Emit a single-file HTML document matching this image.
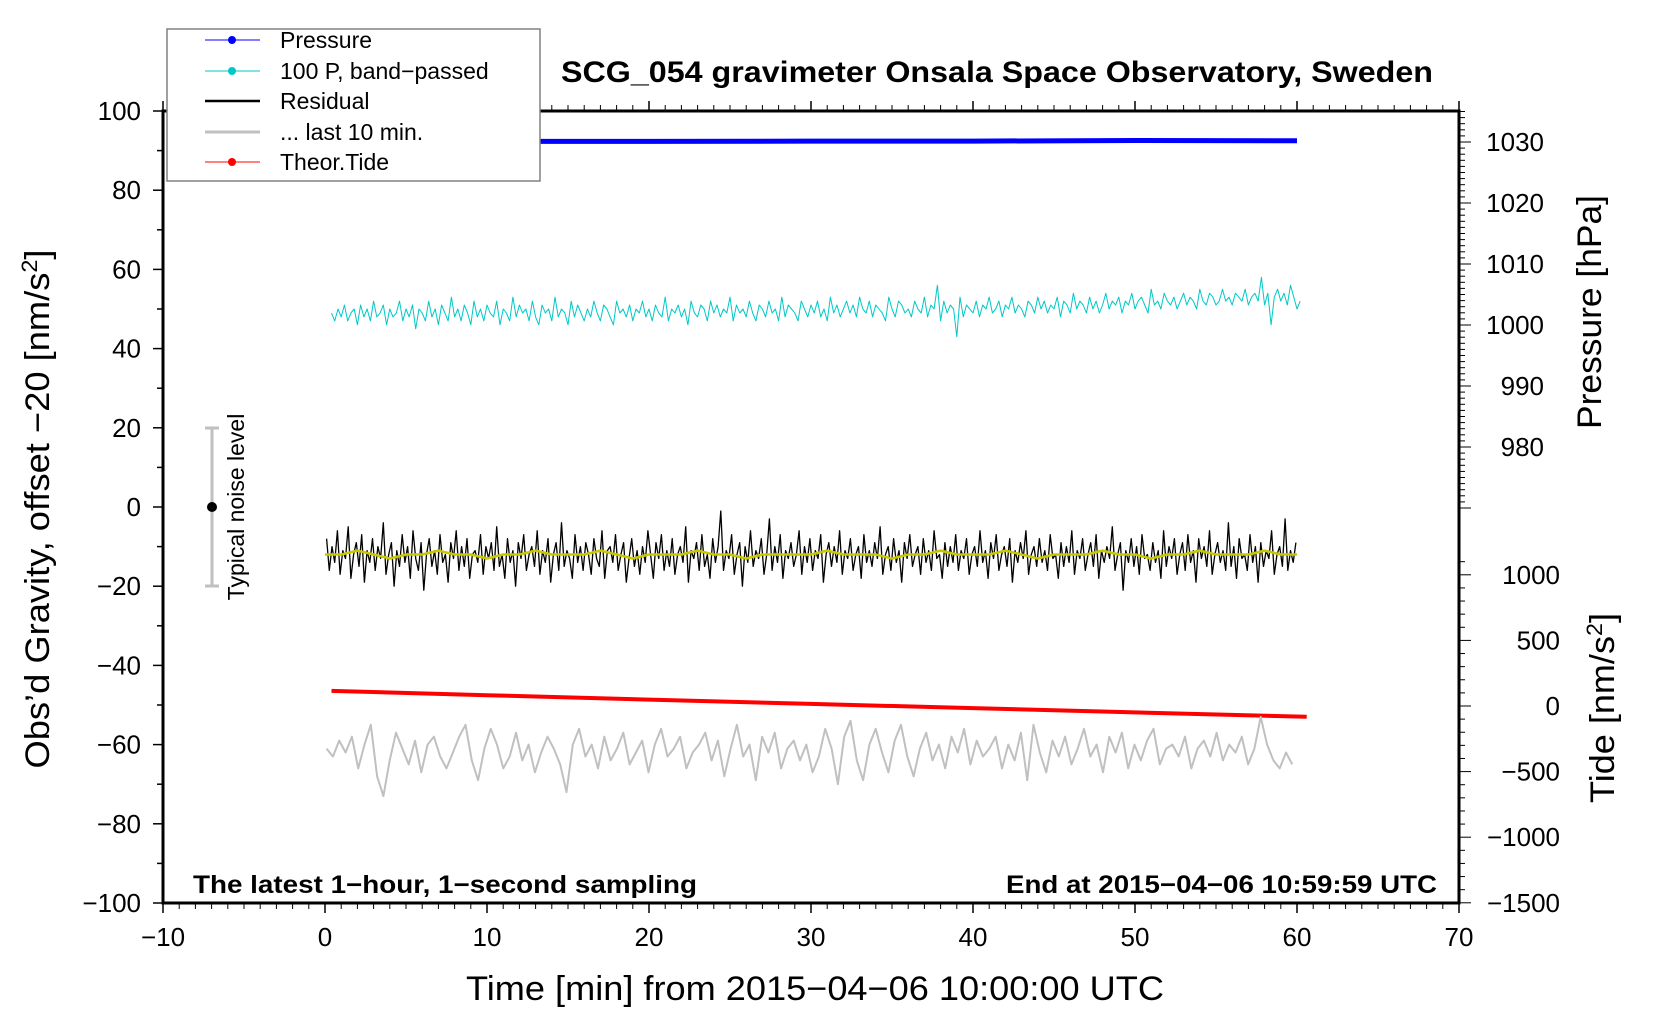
<!DOCTYPE html>
<html><head><meta charset="utf-8"><style>
html,body{margin:0;padding:0;background:#fff;}
svg{display:block;font-family:"Liberation Sans",sans-serif;}
</style></head><body>
<svg id="chart" width="1660" height="1020" viewBox="0 0 1660 1020" xmlns="http://www.w3.org/2000/svg">
<g id="marks"></g>
<g id="axes"></g>
<text x="997" y="82" font-size="30" font-weight="bold" text-anchor="middle" textLength="872" lengthAdjust="spacingAndGlyphs">SCG_054 gravimeter Onsala Space Observatory, Sweden</text>
<text x="193" y="893" font-size="25" font-weight="bold" textLength="504" lengthAdjust="spacingAndGlyphs">The latest 1−hour, 1−second sampling</text>
<text x="1437" y="893" font-size="25" font-weight="bold" text-anchor="end" textLength="431" lengthAdjust="spacingAndGlyphs">End at 2015−04−06 10:59:59 UTC</text>
<text x="815" y="1000" font-size="34" text-anchor="middle" textLength="698" lengthAdjust="spacingAndGlyphs">Time [min] from 2015−04−06 10:00:00 UTC</text>
<text transform="translate(49,509) rotate(-90)" font-size="34" text-anchor="middle" textLength="519" lengthAdjust="spacingAndGlyphs">Obs’d Gravity, offset −20 [nm/s<tspan dy="-12" font-size="22">2</tspan><tspan dy="12">]</tspan></text>
<text transform="translate(1601,312) rotate(-90)" font-size="34" text-anchor="middle" textLength="234" lengthAdjust="spacingAndGlyphs">Pressure [hPa]</text>
<text transform="translate(1614,708) rotate(-90)" font-size="34" text-anchor="middle" textLength="190" lengthAdjust="spacingAndGlyphs">Tide [nm/s<tspan dy="-12" font-size="22">2</tspan><tspan dy="12">]</tspan></text>
<g>
<line x1="212" y1="428" x2="212" y2="586" stroke="#c0c0c0" stroke-width="3"/>
<line x1="205" y1="428" x2="219" y2="428" stroke="#c0c0c0" stroke-width="3"/>
<line x1="205" y1="586" x2="219" y2="586" stroke="#c0c0c0" stroke-width="3"/>
<circle cx="212" cy="507" r="5" fill="#000"/>
<text transform="translate(244,507) rotate(-90)" font-size="23" text-anchor="middle">Typical noise level</text>
</g>
<g>
<rect x="167" y="29" width="373" height="152" fill="#fff" stroke="#808080" stroke-width="1.5"/>
<line x1="205" y1="40" x2="260" y2="40" stroke="#0000ff" stroke-width="1"/><circle cx="232" cy="40" r="4" fill="#0000ff"/>
<text x="280" y="48" font-size="23">Pressure</text>
<line x1="205" y1="71" x2="260" y2="71" stroke="#00c8c8" stroke-width="1"/><circle cx="232" cy="71" r="4" fill="#00c8c8"/>
<text x="280" y="79" font-size="23">100 P, band−passed</text>
<line x1="205" y1="101" x2="260" y2="101" stroke="#000" stroke-width="2.5"/>
<text x="280" y="109" font-size="23">Residual</text>
<line x1="205" y1="132" x2="260" y2="132" stroke="#c0c0c0" stroke-width="3"/>
<text x="280" y="140" font-size="23">... last 10 min.</text>
<line x1="205" y1="162" x2="260" y2="162" stroke="#ff0000" stroke-width="1"/><circle cx="232" cy="162" r="4" fill="#ff0000"/>
<text x="280" y="170" font-size="23">Theor.Tide</text>
</g>
</svg>
<script>
const resid=[-8,-16,-10,-14,-6,-17,-11,-13,-5,-18,-12,-9,-15,-7,-19,-11,-14,-8,-16,-10,
-13,-4,-17,-12,-9,-20,-11,-15,-7,-14,-10,-18,-6,-13,-16,-9,-21,-12,-8,-15,
-11,-17,-7,-14,-12,-19,-9,-13,-6,-16,-10,-15,-8,-18,-12,-11,-14,-7,-17,-10,
-13,-9,-16,-5,-15,-12,-18,-8,-14,-11,-20,-9,-13,-7,-16,-12,-10,-15,-6,-17,
-11,-14,-8,-19,-12,-9,-16,-4,-15,-11,-13,-18,-7,-14,-10,-16,-9,-12,-17,-8,
-13,-15,-6,-18,-11,-10,-14,-7,-16,-12,-9,-19,-13,-8,-15,-11,-17,-10,-14,-6,
-12,-18,-9,-13,-7,-16,-11,-15,-8,-17,-12,-10,-14,-5,-19,-11,-13,-9,-16,-7,
-15,-12,-18,-8,-14,-10,-1,-16,-11,-13,-7,-17,-12,-9,-20,-10,-14,-6,-15,-11,
-13,-8,-17,-12,-3,-16,-10,-14,-7,-18,-11,-13,-9,-15,-12,-6,-17,-10,-14,-8,
-16,-11,-13,-7,-19,-12,-9,-15,-10,-14,-6,-17,-11,-13,-8,-16,-12,-10,-18,-7,
-14,-11,-15,-9,-13,-5,-17,-12,-10,-16,-8,-14,-11,-19,-9,-13,-7,-15,-12,-10,
-17,-8,-14,-11,-16,-6,-13,-12,-18,-9,-15,-10,-14,-7,-16,-11,-13,-8,-17,-12,
-10,-15,-6,-14,-11,-18,-9,-13,-7,-16,-12,-10,-15,-8,-19,-11,-14,-9,-13,-6,
-17,-12,-10,-15,-8,-14,-11,-16,-7,-13,-12,-18,-9,-15,-10,-14,-6,-17,-11,-13,
-8,-16,-12,-9,-15,-7,-18,-11,-14,-10,-13,-5,-16,-12,-9,-21,-11,-14,-8,-15,
-10,-17,-7,-13,-12,-16,-9,-14,-11,-18,-6,-15,-10,-13,-8,-17,-12,-9,-16,-7,
-14,-11,-19,-8,-13,-10,-15,-6,-17,-12,-9,-14,-11,-16,-4,-15,-10,-18,-8,-13,
-12,-16,-7,-14,-10,-19,-9,-15,-11,-13,-6,-17,-12,-10,-15,-3,-16,-11,-14,-9];
const smooth=[-12,-12,-11,-12,-13,-12,-12,-11,-12,-12,-13,-12,-12,-11,-12,-12,-12,-11,-12,-13,-12,-12,-12,-11,-12,-12,-13,-12,-12,-12,-12,-11,-12,-12,-12,-13,-12,-12,-11,-12,-12,-12,-11,-12,-13,-12,-12,-12,-11,-12,-12,-13,-12,-12,-11,-12,-12,-12,-11,-12,-12];
const cyan=[49,47,50,48,51,47,49,50,46,51,48,50,47,52,48,49,51,46,50,48,
49,52,47,50,48,51,45,50,49,47,52,48,50,46,51,49,47,53,48,50,
47,51,49,46,52,48,50,47,51,49,48,52,46,50,49,47,53,48,51,49,
50,47,52,48,46,51,49,50,47,53,48,50,49,46,52,48,51,49,47,50,
48,52,49,47,51,50,48,46,52,49,50,48,51,47,50,49,52,48,50,47,
51,49,48,53,47,50,49,51,48,50,46,52,49,48,51,50,47,52,49,51,
48,50,49,53,47,51,49,50,48,52,49,47,51,50,48,52,49,50,47,53,
48,51,50,49,47,52,50,48,51,49,52,48,50,47,53,49,51,48,50,52,
49,51,48,53,50,49,52,48,51,50,49,47,53,50,48,52,51,49,50,48,
52,50,49,53,48,51,50,56,47,52,49,51,50,43,53,48,51,50,49,52,
48,51,50,53,49,50,52,48,51,50,53,49,51,50,48,52,51,49,53,50,
52,49,51,50,53,48,52,51,49,54,50,52,51,49,53,50,52,49,51,54,
50,52,51,53,49,52,51,54,50,52,53,51,49,55,51,52,50,54,52,51,
53,50,52,54,51,53,52,50,55,52,51,54,53,51,52,55,52,53,51,54,
53,52,55,51,53,54,52,58,51,54,46,53,55,52,54,51,56,53,50,52];
const gray=[-61,-63,-59,-62,-58,-66,-60,-55,-68,-73,-64,-57,-61,-65,-59,-67,-60,-58,-63,-66,
-62,-58,-55,-64,-69,-61,-56,-60,-66,-63,-57,-64,-60,-67,-62,-58,-61,-65,-72,-60,
-56,-63,-60,-66,-58,-64,-61,-57,-65,-62,-59,-67,-60,-56,-63,-61,-58,-66,-62,-60,
-57,-64,-59,-68,-61,-55,-63,-60,-69,-58,-62,-57,-66,-61,-59,-64,-60,-67,-63,-56,
-61,-70,-58,-54,-64,-69,-60,-56,-62,-67,-59,-55,-63,-68,-61,-57,-64,-60,-66,-58,
-62,-56,-65,-59,-63,-61,-58,-66,-60,-64,-57,-69,-55,-62,-67,-59,-63,-58,-65,-61,
-56,-63,-60,-67,-58,-62,-57,-66,-60,-64,-59,-56,-65,-61,-60,-63,-58,-66,-61,-59,
-63,-57,-64,-60,-62,-58,-65,-61,-53,-60,-64,-66,-62,-65];
const presT=[0,10,20,30,40,50,60];
const presV=[1030.1,1030.1,1030.1,1030.15,1030.15,1030.25,1030.2];
const tideT=[0.4,10,20,30,40,50,60.6];
const tideV=[115,82,49,16,-16,-49,-82];
const xTicks=[-10,0,10,20,30,40,50,60,70];
const yTicks=[-100,-80,-60,-40,-20,0,20,40,60,80,100];
const pTicks=[980,990,1000,1010,1020,1030];
const tTicks=[-1500,-1000,-500,0,500,1000];

const NS='http://www.w3.org/2000/svg';
const X=t=>163+(t+10)*16.2;
const Y=g=>111+(100-g)*3.96;
const P=p=>142+(1030-p)*6.1;
const T=v=>706-v*0.1312;
const marks=document.getElementById('marks');
const axes=document.getElementById('axes');
function mk(tag,parent,attrs){const e=document.createElementNS(NS,tag);for(const k in attrs)e.setAttribute(k,attrs[k]);parent.appendChild(e);return e;}
function poly(pts,color,w,name){
  const e=mk('polyline',marks,{points:pts.map(p=>p[0].toFixed(1)+','+p[1].toFixed(1)).join(' '),fill:'none',stroke:color,'stroke-width':w,'stroke-linejoin':'round'});
  
  
}
poly(presT.map((t,i)=>[X(t),P(presV[i])]),'#0000ff',5,'pressure-line');
poly(cyan.map((v,i)=>[X(0.4+i*0.2),Y(v)]),'#00c8c8',1,'band-passed-pressure-line');
poly(resid.map((v,i)=>[X(0.1+i/6),Y(v)]),'#000',1.3,'residual-line');
poly(smooth.map((v,i)=>[X(i),Y(v)]),'#c8c800',2.5,'residual-smoothed-line');
poly(tideT.map((t,i)=>[X(t),T(tideV[i])]),'#ff0000',4,'theoretical-tide-line');
poly(gray.map((v,i)=>[X(0.1+i*60/gray.length),Y(v)]),'#c0c0c0',2,'last-10-min-line');

const L=X(-10),R=X(70),TOP=Y(100),B=Y(-100);
mk('rect',axes,{x:L,y:TOP,width:R-L,height:B-TOP,fill:'none',stroke:'#000','stroke-width':3});
for(let t=-10;t<=70;t++){
  const maj=t%10===0,len=maj?10:6;
  mk('line',axes,{x1:X(t),y1:B,x2:X(t),y2:B+len,stroke:'#000','stroke-width':maj?1.5:1});
  mk('line',axes,{x1:X(t),y1:TOP,x2:X(t),y2:TOP-len,stroke:'#000','stroke-width':maj?1.5:1});
}
xTicks.forEach(t=>{const e=mk('text',axes,{x:X(t),y:946,'font-size':26,'text-anchor':'middle'});e.textContent=String(t).replace('-','−');

});
for(let g=-100;g<=100;g+=10){
  const maj=g%20===0;
  mk('line',axes,{x1:L,y1:Y(g),x2:L-(maj?10:6),y2:Y(g),stroke:'#000','stroke-width':1.5});
}
yTicks.forEach(g=>{const e=mk('text',axes,{x:141,y:Y(g)+9,'font-size':26,'text-anchor':'end'});e.textContent=String(g).replace('-','−');

});
for(let p=970;p<=1035;p++){
  const maj=p%10===0;
  mk('line',axes,{x1:R,y1:P(p),x2:R+(maj?12:6),y2:P(p),stroke:'#000','stroke-width':1});
}
pTicks.forEach(p=>{const e=mk('text',axes,{x:1544,y:P(p)+9,'font-size':26,'text-anchor':'end'});e.textContent=String(p);

});
for(let v=-1500;v<=1100;v+=100){
  const maj=v%500===0;
  mk('line',axes,{x1:R,y1:T(v),x2:R+(maj?12:6),y2:T(v),stroke:'#000','stroke-width':1});
}
tTicks.forEach(v=>{const e=mk('text',axes,{x:1560,y:T(v)+9,'font-size':26,'text-anchor':'end'});e.textContent=String(v).replace('-','−');

});
</script>
</body></html>
